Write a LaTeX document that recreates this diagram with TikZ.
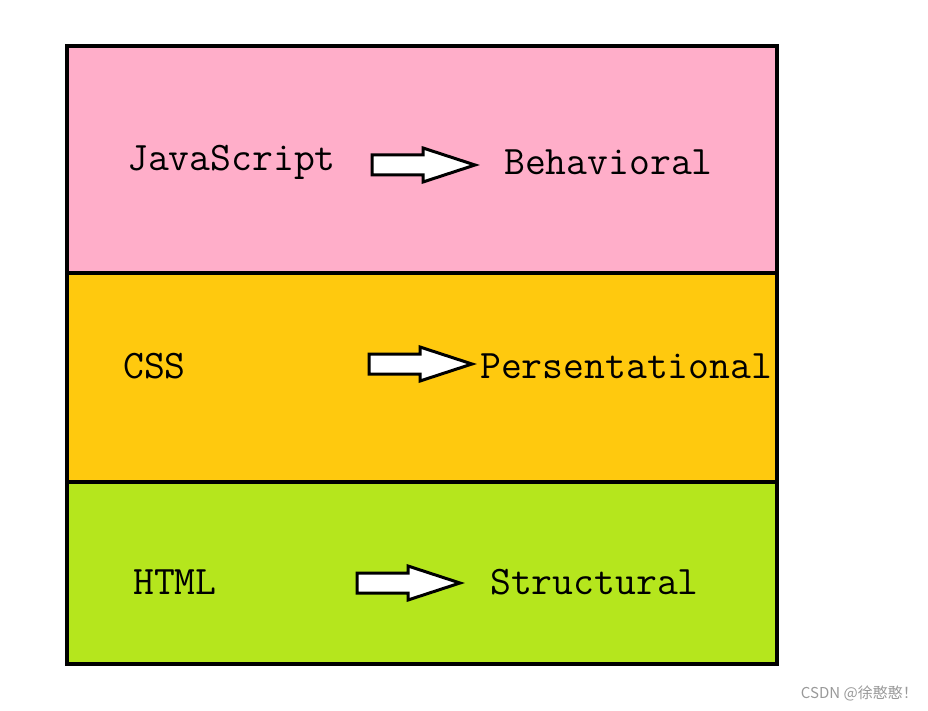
\documentclass[tikz,border=0pt]{standalone}
\usepackage{fontspec}
\newfontfamily\cjk{Noto Sans CJK SC}
\usepackage{tikz}

\definecolor{jsPink}{RGB}{255,174,201}
\definecolor{cssOrange}{RGB}{255,201,14}
\definecolor{htmlGreen}{RGB}{181,230,29}

\tikzset{
  layer/.style={draw=black,line width=4},
  label/.style={anchor=west,inner sep=0,font=\fontsize{40.5}{40.5}\ttfamily},
  fatarrow/.style={draw=black,fill=white,line width=3,line join=miter}
}
\newcommand{\blockarrow}[2]{%
  \draw [fatarrow] (#1,#2-10) -- (#1+51,#2-10) -- (#1+51,#2-17) -- (#1+103,#2)
    -- (#1+51,#2+17) -- (#1+51,#2+10) -- (#1,#2+10) -- cycle ;}

\begin{document}
\begin{tikzpicture}[x=1pt,y=1pt,yscale=-1,xscale=1]
\useasboundingbox (0,0) rectangle (928,711);

%Layers
\fill [jsPink] (67,46) rectangle (777,273) ;
\fill [cssOrange] (67,273) rectangle (777,482) ;
\fill [htmlGreen] (67,482) rectangle (777,664) ;
\draw [layer] (67,273) -- (777,273) ;
\draw [layer] (67,482) -- (777,482) ;
\draw [layer] (67,46) rectangle (777,664) ;

%Arrows
\blockarrow{372}{165}
\blockarrow{369}{364}
\blockarrow{357}{583}

% Text Nodes
\node (js) [label] at (127,162) {JavaScript};
\node (behav) [label] at (504,162) {Behavioral};
\node (css) [label] at (123,366) {CSS};
\node (pers) [label] at (480,366) {Persentational};
\node (html) [label] at (133,582) {HTML};
\node (struct) [label] at (490,582) {Structural};

% Watermark
\node (mark) [anchor=east,inner sep=0,text=black!40,font=\fontsize{15}{15}\cjk] at (918,693) {CSDN @徐憨憨！};
\end{tikzpicture}
\end{document}
